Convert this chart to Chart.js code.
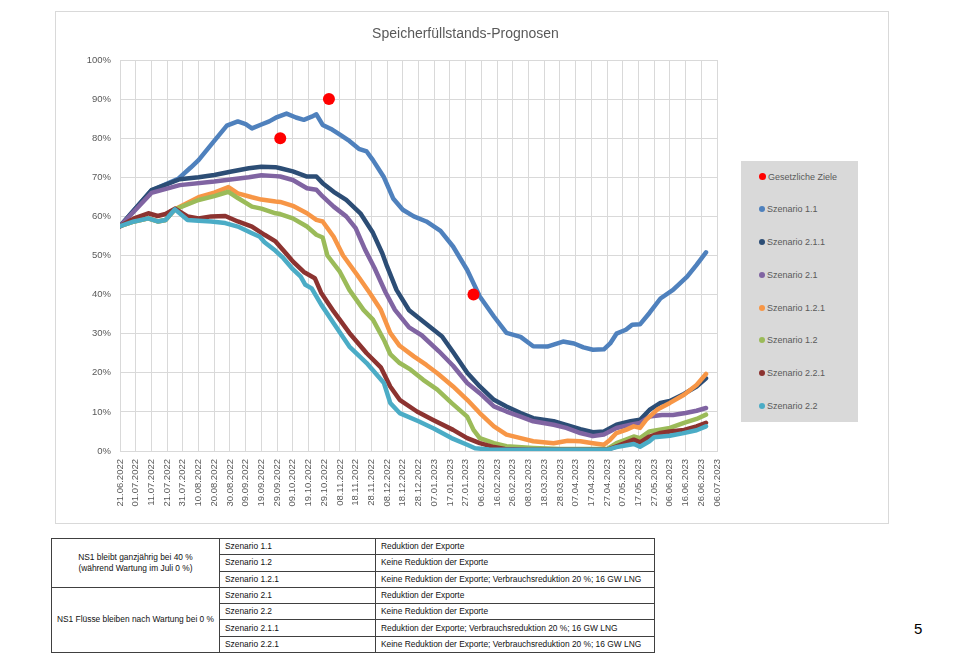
<!DOCTYPE html>
<html><head><meta charset="utf-8">
<script src="https://cdn.jsdelivr.net/npm/chart.js@4.4.0/dist/chart.umd.min.js"></script>
<style>
body{margin:0;background:#fff;width:960px;height:659px;position:relative;overflow:hidden;font-family:"Liberation Sans",Arial,sans-serif}
#frame{position:absolute;left:55px;top:11px;width:832px;height:511px;border:1px solid #d9d9d9;box-sizing:content-box}
#c{position:absolute;left:56px;top:12px}
#title{position:absolute;left:56px;width:819px;top:24px;line-height:18px;text-align:center;font-size:14px;color:#595959}
#legend{position:absolute;left:741px;top:161px;width:117px;height:261px;background:#d9d9d9}
.li{position:absolute;left:18px;height:14px;line-height:14px;font-size:9px;color:#595959;white-space:nowrap}
.li span.dot{display:inline-block;width:6px;height:6px;border-radius:50%;margin-right:2px;vertical-align:0px}
table{position:absolute;left:51px;top:538px;width:603px;border-collapse:collapse;table-layout:fixed;font-size:8.4px;color:#111}
tr{height:16.3px}
td{border:1px solid #404040;padding:0 0 0 5px;white-space:nowrap;overflow:hidden;line-height:15px}
td.g{text-align:center;line-height:11.4px;padding:0}
#page{position:absolute;left:914px;top:620px;font-size:15px;color:#000}
</style></head>
<body>
<div id="frame"></div>
<canvas id="c" width="831" height="510"></canvas>
<div id="title">Speicherfüllstands-Prognosen</div>
<div id="legend"></div>
<table>
<colgroup><col style="width:168px"><col style="width:156px"><col style="width:279px"></colgroup>
<tr><td class="g" rowspan="3">NS1 bleibt ganzjährig bei 40 %<br>(während Wartung im Juli 0 %)</td><td>Szenario 1.1</td><td>Reduktion der Exporte</td></tr>
<tr><td>Szenario 1.2</td><td>Keine Reduktion der Exporte</td></tr>
<tr><td>Szenario 1.2.1</td><td>Keine Reduktion der Exporte; Verbrauchsreduktion 20 %; 16 GW LNG</td></tr>
<tr><td class="g" rowspan="4">NS1 Flüsse bleiben nach Wartung bei 0 %</td><td>Szenario 2.1</td><td>Reduktion der Exporte</td></tr>
<tr><td>Szenario 2.2</td><td>Keine Reduktion der Exporte</td></tr>
<tr><td>Szenario 2.1.1</td><td>Reduktion der Exporte; Verbrauchsreduktion 20 %; 16 GW LNG</td></tr>
<tr><td>Szenario 2.2.1</td><td>Keine Reduktion der Exporte; Verbrauchsreduktion 20 %; 16 GW LNG</td></tr>
</table>
<div id="page">5</div>
<script>
// Tick labels (one every 10 days, day 0 = 21.06.2022)
const dateLabels = ['21.06.2022','01.07.2022','11.07.2022','21.07.2022','31.07.2022','10.08.2022','20.08.2022','30.08.2022','09.09.2022','19.09.2022','29.09.2022','09.10.2022','19.10.2022','29.10.2022','08.11.2022','18.11.2022','28.11.2022','08.12.2022','18.12.2022','28.12.2022','07.01.2023','17.01.2023','27.01.2023','06.02.2023','16.02.2023','26.02.2023','08.03.2023','18.03.2023','28.03.2023','07.04.2023','17.04.2023','27.04.2023','07.05.2023','17.05.2023','27.05.2023','06.06.2023','16.06.2023','26.06.2023','06.07.2023'];

// Gesetzliche Ziele (day offset, %)
const zieleDays = [102, 133, 225];
const zieleVals = [80, 90, 40];

// Szenario 1.1
const s11Days = [0,20,37,45,50,60,68,75,80,84,90,95,100,106,112,117,122,125,129,135,140,146,152,157,161,168,174,180,187,195,204,212,221,229,238,246,255,263,272,282,289,295,301,308,312,316,322,326,331,337,344,352,361,367,373];
const s11Vals = [57.5,66.6,69.6,72.5,74.4,79.3,83.2,84.3,83.6,82.5,83.5,84.3,85.4,86.3,85.3,84.7,85.5,86.1,83.4,82.2,80.9,79.3,77.3,76.6,74.4,70.0,64.5,61.7,60.0,58.7,56.3,52.3,46.3,39.5,34.4,30.2,29.2,26.8,26.7,28.0,27.5,26.5,25.9,26.0,27.5,30.0,31.0,32.3,32.4,35.3,39.0,41.2,44.6,47.6,50.8];

// Szenario 2.1.1
const s211Days = [0,20,38,50,60,71,82,90,99,102,110,119,125,129,136,144,153,161,167,170,176,184,193,199,205,212,221,229,238,246,255,263,276,284,293,301,308,316,325,331,337,344,350,359,367,373];
const s211Vals = [57.5,66.7,69.5,70.0,70.6,71.5,72.3,72.7,72.6,72.3,71.5,70.2,70.2,68.5,66.3,64.2,60.8,55.8,50.5,47.2,41.2,36.0,33.1,31.2,29.3,25.3,20.0,16.5,13.1,11.4,9.7,8.4,7.6,6.7,5.6,4.8,5.0,6.7,7.6,8.0,10.5,12.3,12.8,14.6,16.5,18.6];

// Szenario 2.1
const s21Days = [0,20,38,60,82,90,99,102,110,119,125,129,136,144,150,156,162,169,175,184,192,203,212,221,229,238,246,255,263,276,284,293,301,308,316,325,331,337,345,352,360,367,373];
const s21Vals = [57.5,66.0,68.0,68.9,70.0,70.5,70.3,70.2,69.3,67.2,66.8,65.1,62.5,60.0,57.0,51.5,46.8,40.6,36.1,31.6,29.6,25.5,21.8,17.4,14.8,11.4,10.1,8.8,7.6,6.7,5.9,4.6,3.8,4.2,5.9,6.7,7.2,8.8,9.2,9.2,9.7,10.3,11.0];

// Szenario 1.2.1
const s121Days = [0,9,18,24,29,35,50,60,69,75,84,90,99,102,110,119,125,129,136,142,151,159,166,172,178,187,195,202,212,221,229,238,246,255,263,276,285,293,301,308,312,316,322,327,331,335,342,350,359,367,373];
const s121Vals = [57.5,58.7,59.5,58.7,59.1,61.8,64.9,66.1,67.5,65.9,64.9,64.3,63.8,63.7,62.7,60.8,59.1,58.7,54.8,50.0,45.0,40.4,36.1,30.2,26.9,24.2,22.0,19.9,16.5,13.1,9.7,6.3,4.2,3.3,2.5,2.0,2.6,2.5,2.0,1.6,2.9,4.6,5.4,6.3,5.9,8.0,10.6,12.3,14.4,16.9,19.7];

// Szenario 1.2
const s12Days = [0,9,18,24,29,35,50,60,69,75,84,90,99,102,110,119,125,129,132,140,146,155,161,168,172,178,185,193,202,211,221,225,229,238,246,263,280,310,316,322,327,331,337,350,359,367,373];
const s12Vals = [57.5,58.7,59.5,58.7,59.1,61.8,64.2,65.2,66.3,64.7,62.5,62.0,60.8,60.6,59.5,57.4,55.3,54.6,50.0,45.8,41.2,36.1,33.6,28.4,24.8,22.5,20.8,18.2,15.7,12.3,8.8,5.4,3.3,2.0,1.2,0.8,0.5,0.5,2.0,2.9,3.7,3.3,5.0,5.9,7.2,8.2,9.3];

// Szenario 2.2.1
const s221Days = [0,9,18,24,29,35,43,50,58,67,75,84,92,99,106,110,117,124,128,136,146,157,166,172,178,189,199,212,221,229,238,245,260,310,316,327,331,337,344,350,359,367,373];
const s221Vals = [57.5,59.5,60.8,60.1,60.6,62.0,60.0,59.5,60.0,60.1,58.7,57.4,55.3,53.6,50.4,48.5,45.8,44.2,40.5,35.7,30.2,25.0,21.4,16.5,13.1,10.1,8.0,5.4,3.3,2.0,1.0,0.5,0.3,0.3,1.2,2.9,2.2,3.7,4.6,5.0,5.4,6.3,7.2];

// Szenario 2.2
const s22Days = [0,9,18,24,29,35,43,50,58,67,75,84,89,92,99,104,110,115,118,122,128,136,146,157,168,172,178,190,200,211,221,226,235,260,290,310,316,327,331,337,340,350,358,367,373];
const s22Vals = [57.5,58.7,59.5,58.7,59.1,61.8,59.1,58.9,58.7,58.3,57.4,55.7,54.8,53.4,51.2,49.3,46.5,44.6,42.5,41.6,37.5,32.7,26.7,22.5,17.4,12.3,9.7,7.6,5.7,3.3,1.6,0.7,0.4,0.3,0.3,0.3,1.0,1.8,1.1,2.5,3.5,3.9,4.5,5.3,6.3];

const seriesNames = ['Gesetzliche Ziele','Szenario 1.1','Szenario 2.1.1','Szenario 2.1','Szenario 1.2.1','Szenario 1.2','Szenario 2.2.1','Szenario 2.2'];
const seriesColors = ['#FF0000','#4F81BD','#2C4D75','#8064A2','#F79646','#9BBB59','#8C3330','#4BACC6'];
const seriesDays = [zieleDays,s11Days,s211Days,s21Days,s121Days,s12Days,s221Days,s22Days];
const seriesVals = [zieleVals,s11Vals,s211Vals,s21Vals,s121Vals,s12Vals,s221Vals,s22Vals];

const n = seriesNames.length;
const datasets = seriesNames.map((name,i)=>{
  const isGoal = i===0;
  return {
    label:name,
    data: seriesDays[i].map((d,k)=>({x:d,y:seriesVals[i][k]})),
    borderColor: seriesColors[i],
    backgroundColor: seriesColors[i],
    showLine: !isGoal,
    pointRadius: isGoal?6:0,
    pointHoverRadius: isGoal?6:0,
    borderWidth: isGoal?0:4.5,
    borderJoinStyle:'round',
    borderCapStyle:'round',
    tension:0,
    order: isGoal?0:(n-i)
  };
});

const tickFont = {family:'"Liberation Sans", Arial, sans-serif', size:9.5};
new Chart(document.getElementById('c'),{
  type:'line',
  data:{datasets},
  options:{
    responsive:false,
    animation:false,
    layout:{padding:{left:0,right:170,top:48,bottom:0}},
    plugins:{legend:{display:false},title:{display:false},tooltip:{enabled:false}},
    scales:{
      x:{type:'linear',min:0,max:380,
        grid:{color:'#d9d9d9',lineWidth:1,drawTicks:false},
        border:{color:'#d9d9d9'},
        ticks:{stepSize:10,maxTicksLimit:100,autoSkip:false,minRotation:90,maxRotation:90,padding:8,color:'#595959',font:tickFont,
          callback:(v)=>dateLabels[Math.round(v/10)]},
        afterFit:(s)=>{s.height=71;}
      },
      y:{min:0,max:100,
        grid:{color:'#d9d9d9',lineWidth:1,drawTicks:false},
        border:{display:false},
        ticks:{stepSize:10,padding:9,color:'#595959',font:tickFont,callback:(v)=>v+'%'},
        afterFit:(s)=>{s.width=64;}
      }
    }
  }
});

// HTML legend built from the series arrays
const lg = document.getElementById('legend');
seriesNames.forEach((name,i)=>{
  const d = document.createElement('div');
  d.className='li';
  d.style.top = (8.7 + i*32.7)+'px';
  const sz = i===0?7:6;
  d.innerHTML = '<span class="dot" style="background:'+seriesColors[i]+';width:'+sz+'px;height:'+sz+'px"></span>'+name;
  lg.appendChild(d);
});
</script>
</body></html>
